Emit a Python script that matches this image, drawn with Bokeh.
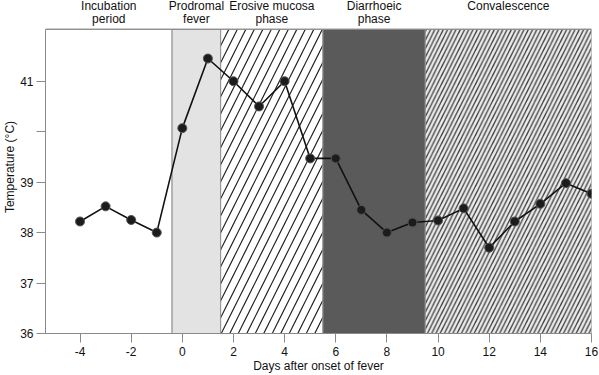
from bokeh.plotting import figure
from bokeh.models import FixedTicker, Label, Range1d
from bokeh.embed import file_html
from bokeh.resources import INLINE

# Data
days = [-4, -3, -2, -1, 0, 1, 2, 3, 4, 5, 6, 7, 8, 9, 10, 11, 12, 13, 14, 15, 16]
temps = [38.22, 38.52, 38.25, 38.0, 40.07, 41.45, 41.0, 40.5, 41.0, 39.47, 39.47,
         38.45, 38.0, 38.2, 38.24, 38.48, 37.7, 38.22, 38.57, 38.98, 38.77]

phase_top = ["Incubation", "Prodromal", "Erosive mucosa", "Diarrhoeic", "Convalescence"]
phase_bottom = ["period", "fever", "phase", "phase", ""]
phase_start = [-5.35, -0.4, 1.5, 5.5, 9.5]
phase_end = [-0.4, 1.5, 5.5, 9.5, 16.0]

x_ticks = [-4, -2, 0, 2, 4, 6, 8, 10, 12, 14, 16]
x_tick_labels = {-4: "-4", -2: "-2"}
y_ticks = [36, 37, 38, 39, 40, 41]
y_tick_labels = {36: "36", 37: "37", 38: "38", 39: "39", 40: "", 41: "41"}

FONT = "Liberation Sans"
Y_MIN, Y_TOP_AXIS, Y_CANVAS_TOP = 36, 42.03, 42.6

p = figure(width=599, height=375, output_backend="svg", toolbar_location=None,
           x_range=Range1d(-5.35, 16.0), y_range=Range1d(Y_MIN, Y_CANVAS_TOP),
           min_border_left=45, min_border_right=8, min_border_top=0, min_border_bottom=41)
p.grid.visible = False
p.outline_line_color = None
p.background_fill_color = "white"

# Phase regions
styles = [
    dict(fill_color="white"),
    dict(fill_color="#e3e3e3"),
    dict(fill_color="white", hatch_pattern="right_diagonal_line", hatch_color="#222222",
         hatch_scale=17, hatch_weight=1.2),
    dict(fill_color="#5a5a5a"),
    dict(fill_color="#ececec", hatch_pattern="right_diagonal_line", hatch_color="#3c3c3c",
         hatch_scale=8.5, hatch_weight=1.3),
]
for s, e, st in zip(phase_start, phase_end, styles):
    p.quad(left=[s], right=[e], bottom=[35], top=[Y_TOP_AXIS], line_color="#8f8f8f",
           line_width=1, **st)

# Top frame line
p.segment(x0=[-5.35], y0=[Y_TOP_AXIS], x1=[16.0], y1=[Y_TOP_AXIS],
          line_color="#8a8a8a", line_width=1.2)

# Data line and markers
p.line(days, temps, line_color="#111111", line_width=1.6)
p.scatter(days, temps, size=9, fill_color="#1c1c1c", line_color="#555555", line_width=1)

# Axes
for ax in (p.xaxis, p.yaxis):
    ax.axis_line_color = "#8a8a8a"
    ax.major_tick_line_color = "#8a8a8a"
    ax.major_tick_out = 9
    ax.major_tick_in = 0
    ax.minor_tick_line_color = None
    ax.major_label_text_font = FONT
    ax.major_label_text_font_size = "12px"
    ax.major_label_text_color = "#111111"
    ax.axis_label_text_font = FONT
    ax.axis_label_text_font_size = "12px"
    ax.axis_label_text_font_style = "normal"
    ax.axis_label_text_color = "#111111"
    ax.axis_label_standoff = 0
p.xaxis.ticker = FixedTicker(ticks=x_ticks)
p.xaxis.major_label_overrides = x_tick_labels
p.yaxis.ticker = FixedTicker(ticks=y_ticks)
p.yaxis.major_label_overrides = y_tick_labels
p.yaxis.bounds = (Y_MIN, Y_TOP_AXIS)
p.xaxis.major_label_standoff = 4
p.yaxis.major_label_standoff = 3
p.xaxis.axis_label = "Days after onset of fever"
p.yaxis.axis_label = "Temperature (°C)"

# Phase headers
for s, e, t1, t2 in zip(phase_start, phase_end, phase_top, phase_bottom):
    cx = (s + e) / 2
    p.add_layout(Label(x=cx, y=42.49, text=t1, text_align="center", text_baseline="middle",
                       text_font=FONT, text_font_size="12px", text_color="#111111"))
    if t2:
        p.add_layout(Label(x=cx, y=42.23, text=t2, text_align="center",
                           text_baseline="middle", text_font=FONT, text_font_size="12px",
                           text_color="#111111"))

open("out.html", "w").write(file_html(p, INLINE))
